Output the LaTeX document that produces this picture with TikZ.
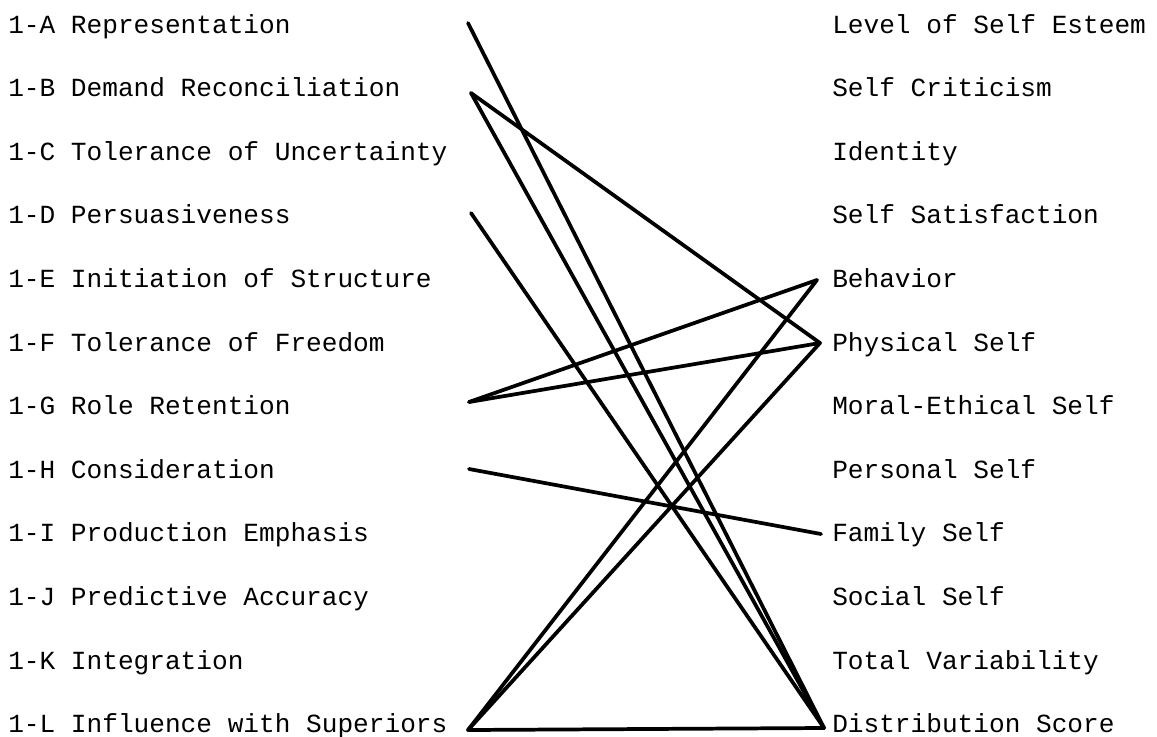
\documentclass[tikz,border=0pt]{standalone}
\usepackage{fontspec}
\setmonofont{Liberation Mono}
\begin{document}
\begin{tikzpicture}[x=0.75pt,y=-0.75pt,
  lbl/.style={anchor=base west,inner sep=0pt,font=\ttfamily\fontsize{19.6}{22}\selectfont},
  link/.style={line width=2.8pt,line cap=round,line join=round}]
\useasboundingbox (0,0) rectangle (1157,736);
% left labels
\foreach \n/\t [count=\i from 0] in {A/Representation,B/Demand Reconciliation,C/Tolerance of Uncertainty,D/Persuasiveness,E/Initiation of Structure,F/Tolerance of Freedom,G/Role Retention,H/Consideration,I/Production Emphasis,J/Predictive Accuracy,K/Integration,L/Influence with Superiors}
  \node[lbl] (L\n) at (8,{33+63.6*\i}) {1-\n{} \t};
% right labels
\foreach \n/\t [count=\i from 0] in {a/Level of Self Esteem,b/Self Criticism,c/Identity,d/Self Satisfaction,e/Behavior,f/Physical Self,g/Moral-Ethical Self,h/Personal Self,i/Family Self,j/Social Self,k/Total Variability,l/Distribution Score}
  \node[lbl] (R\n) at (832,{33+63.6*\i}) {\t};
% connector ends
\coordinate (pA) at (468,23);
\coordinate (pB) at (471,93);
\coordinate (pD) at (471,213);
\coordinate (pG) at (469,402);
\coordinate (pH) at (469,469);
\coordinate (pL) at (468,730);
\coordinate (qBeh) at (817,280);
\coordinate (qPhy) at (820,343);
\coordinate (qFam) at (821,534);
\coordinate (qDis) at (824,728);
% connectors
\draw[link] (pA) -- (qDis);
\draw[link] (pB) -- (qDis);
\draw[link] (pB) -- (qPhy);
\draw[link] (pD) -- (qDis);
\draw[link] (pG) -- (qBeh);
\draw[link] (pG) -- (qPhy);
\draw[link] (pH) -- (qFam);
\draw[link] (pL) -- (qBeh);
\draw[link] (pL) -- (qPhy);
\draw[link] (pL) -- (qDis);
\end{tikzpicture}
\end{document}
